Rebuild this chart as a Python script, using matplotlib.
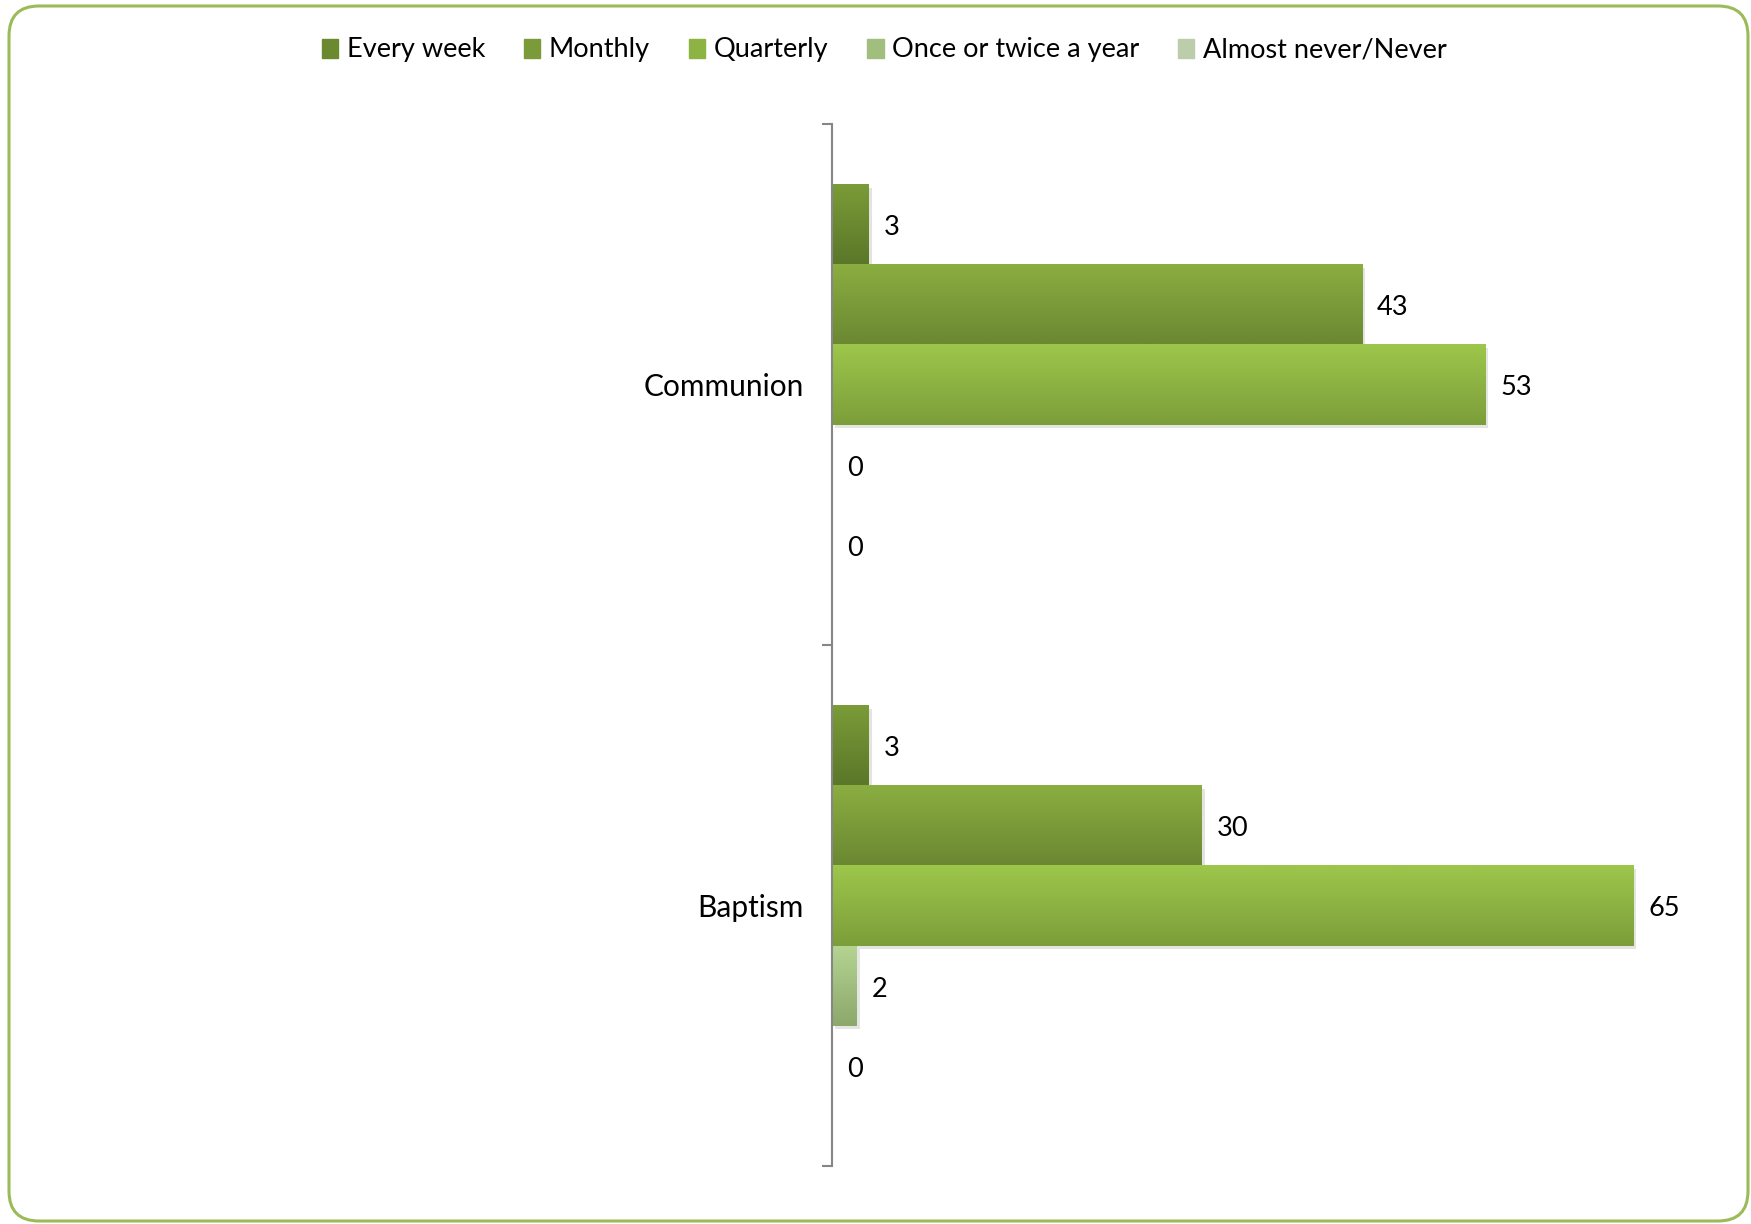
import numpy as np
import matplotlib
matplotlib.use("Agg")
import matplotlib.pyplot as plt
from matplotlib.patches import FancyBboxPatch
from matplotlib.transforms import IdentityTransform
import matplotlib.patheffects as pe
from matplotlib.colors import to_rgb

plt.rcParams['font.family'] = ['Lato', 'DejaVu Sans']

################################################################################
# data
categories = ["Communion", "Baptism"]
series     = ["Every week", "Monthly", "Quarterly", "Once or twice a year", "Almost never/Never"]
communion  = [3, 43, 53, 0, 0]
baptism    = [3, 30, 65, 2, 0]
values     = [communion, baptism]

# gradient colours per series (top, bottom)
topColors  = ["#7b9c38", "#8bae41", "#9dc64b", "#b5d491", "#d1e2be"]
botColors  = ["#5b7729", "#6b8832", "#7c9e3a", "#8ca86c", "#a7b79a"]
midColors  = ["#6b8a30", "#7b9b3a", "#8db443", "#a1be7e", "#bccdac"]

################################################################################
W, H = 1751, 1224
fig = plt.figure(figsize=(W/100, H/100), dpi=100)
fig.patch.set_facecolor("white")

# rounded green frame
frame = FancyBboxPatch((9, 3), W-12, H-9,
                       boxstyle="round,pad=0,rounding_size=30",
                       transform=IdentityTransform(),
                       facecolor="none", edgecolor="#9bbb59", linewidth=2.2)
fig.patches.append(frame)

ax = fig.add_axes([831.5/W, 1-1166/H, (1692-831.5)/W, (1166-124)/H])
ax.set_facecolor("none")
ax.set_zorder(2)

nSeries = len(series)
h = 1/6.5
catPos = np.arange(len(categories))
for j in range(nSeries):
	vals = [values[c][j] for c in range(len(categories))]
	ys = catPos + (j-2)*h
	b = ax.barh(ys, vals, height=h, color=botColors[j], label=series[j],
				path_effects=[pe.SimplePatchShadow(offset=(2.5, -2.5), alpha=0.12), pe.Normal()])
	for y, v, p in zip(ys, vals, b.patches):
		# vertical gradient
		if v > 0:
			grad = np.linspace(to_rgb(topColors[j]), to_rgb(botColors[j]), 64).reshape(64, 1, 3)
			im = ax.imshow(grad, extent=(0, v, y+h/2, y-h/2), origin='upper',
						   aspect='auto', interpolation='bilinear', zorder=2)
			im.set_clip_path(p)
		ax.annotate(str(v), (v, y), xytext=(11, -2.5), textcoords='offset points',
					ha='left', va='center', fontsize=19.5, color='black')

ax.set_xlim(0, 69.8)
ax.set_ylim(1.5, -0.5)

for s in ["top", "right", "bottom"]:
	ax.spines[s].set_visible(False)
ax.spines["left"].set_color("#868686")
ax.spines["left"].set_linewidth(1.5)
ax.set_xticks([])
ax.set_yticks([-0.5, 0.5, 1.5])
ax.set_yticklabels([])
ax.tick_params(axis='y', which='major', length=7, width=1.5, color="#868686", direction='out')
ax.set_yticks(catPos, minor=True)
ax.set_yticklabels(categories, minor=True, fontsize=21.5)
ax.tick_params(axis='y', which='minor', length=0, pad=20)

handles = [plt.Rectangle((0, 0), 1, 1, color=c) for c in midColors]
fig.legend(handles, series, loc='center', bbox_to_anchor=(0.505, 1-50/H), ncol=5,
		   frameon=False, fontsize=19.5, handlelength=0.6, handleheight=0.7,
		   handletextpad=0.3, columnspacing=1.45)

fig.savefig("out.png", dpi=100)
